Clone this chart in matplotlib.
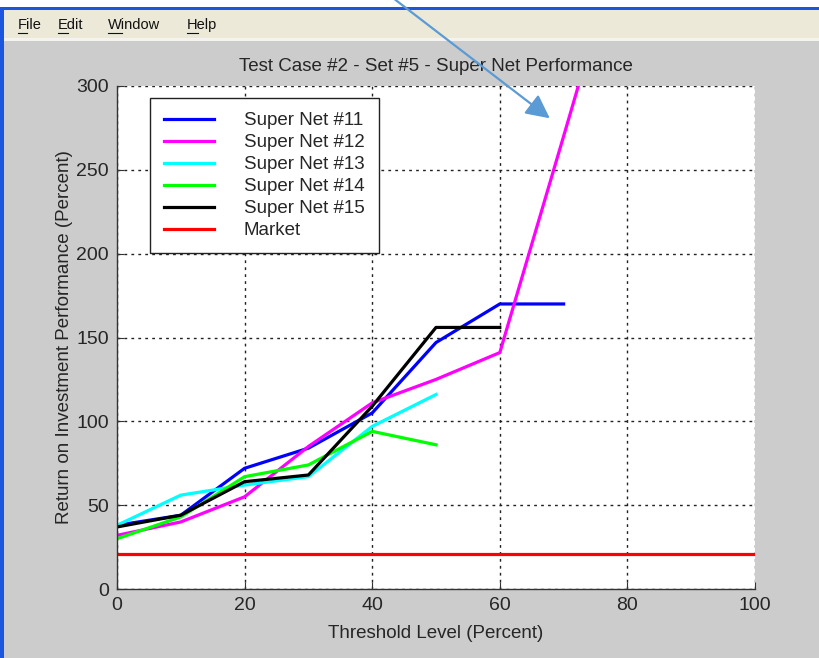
import matplotlib.pyplot as plt
from matplotlib.patches import Rectangle, FancyArrowPatch
from matplotlib.lines import Line2D

plt.rcParams['font.family'] = ['Liberation Sans', 'DejaVu Sans']

# ====================
# data
# ====================
thresh = [0, 10, 20, 30, 40, 50, 60, 70, 80]
net11 = [38, 44, 72, 84, 105, 147, 170, 170]
net12 = [32, 40, 55, 85, 111, 125, 141, 270, 400]
net13 = [38, 56, 62, 67, 97, 116]
net14 = [30, 43, 67, 74, 94, 86]
net15 = [37, 44, 64, 68, 109, 156, 156]
market_x = [0, 100]
market = [21, 21]

series = [
    ("Super Net #11", net11, "#0000FF"),
    ("Super Net #12", net12, "#FF00FF"),
    ("Super Net #13", net13, "#00FFFF"),
    ("Super Net #14", net14, "#00FF00"),
    ("Super Net #15", net15, "#000000"),
]

menu_items = ["File", "Edit", "Window", "Help"]
menu_x = [18, 58, 108, 187]

W, H = 819, 658
txt = "#262626"
fig = plt.figure(figsize=(W / 100, H / 100), dpi=100, facecolor="#CCCCCC")


def px(x, y):
    # pixel (top-left origin) -> figure fraction
    return x / W, 1 - y / H


def rect(x0, y0, x1, y1, color):
    fig.patches.append(Rectangle(px(x0, y1), (x1 - x0) / W, (y1 - y0) / H,
                                 transform=fig.transFigure, color=color,
                                 lw=0, zorder=-5))


# window chrome: title strip, menu bar, left border
rect(0, 0, W, 7, "#FFFFFF")
rect(0, 7, W, 10, "#1C55DE")
rect(0, 10, W, 38, "#ECE9D8")
rect(0, 38, W, 41, "#F4F3EE")
rect(0, 10, 4, H, "#1C55DE")

renderer = fig.canvas.get_renderer()
for name, x in zip(menu_items, menu_x):
    fig.text(*px(x, 25), name, fontsize=10.5, color="#111111", va="center",
             ha="left")
    # underline the mnemonic letter
    first = fig.text(*px(x, 25), name[0], fontsize=10.5, va="center",
                     ha="left", alpha=0)
    w = first.get_window_extent(renderer).width
    first.remove()
    fig.add_artist(Line2D([x / W, (x + w) / W], [1 - 33 / H] * 2,
                          transform=fig.transFigure, color="#111111", lw=0.8))

# ====================
# axes
# ====================
ax = fig.add_axes([117 / W, 1 - 589 / H, 638 / W, 503 / H])
ax.set_facecolor("white")

for label, vals, color in series:
    ax.plot(thresh[:len(vals)], vals, color=color, lw=2.3, label=label)
ax.plot(market_x, market, color="#FF0000", lw=2.3, label="Market")

ax.set_xlim(0, 100)
ax.set_ylim(0, 300)
ax.set_xticks(range(0, 101, 20))
ax.set_yticks(range(0, 301, 50))
ax.grid(True, color="#222222", linestyle=(0, (2, 3)), lw=1.0)
ax.set_axisbelow(True)
for s in ["top", "right"]:
    ax.spines[s].set_visible(False)
for s in ["left", "bottom"]:
    ax.spines[s].set_color("#333333")
    ax.spines[s].set_linewidth(1.0)
ax.tick_params(direction="in", length=5, labelsize=14, colors="#333333",
               labelcolor=txt, pad=6)

ax.set_title("Test Case #2 - Set #5 - Super Net Performance", fontsize=13.5,
             color=txt, pad=11)
ax.set_xlabel("Threshold Level (Percent)", fontsize=13.5, color=txt,
              labelpad=8)
ax.set_ylabel("Return on Investment Performance (Percent)", fontsize=13.5,
              color=txt, labelpad=2)

leg = ax.legend(loc="upper left", bbox_to_anchor=(0.0517, 0.976),
                fontsize=13.5, frameon=True, fancybox=False, framealpha=1,
                edgecolor="#222222", handlelength=2.65, handletextpad=1.6,
                labelspacing=0.26, borderpad=0.75, borderaxespad=0)
leg.get_frame().set_linewidth(1.0)
for t in leg.get_texts():
    t.set_color(txt)

# annotation arrow drawn over the screenshot
arrow = FancyArrowPatch(px(393, -2), px(552, 120), transform=fig.transFigure,
                        arrowstyle="-|>", mutation_scale=36, color="#5B9BD5",
                        lw=1.6, zorder=10)
fig.patches.append(arrow)

fig.savefig("out.png", dpi=100, facecolor=fig.get_facecolor())
